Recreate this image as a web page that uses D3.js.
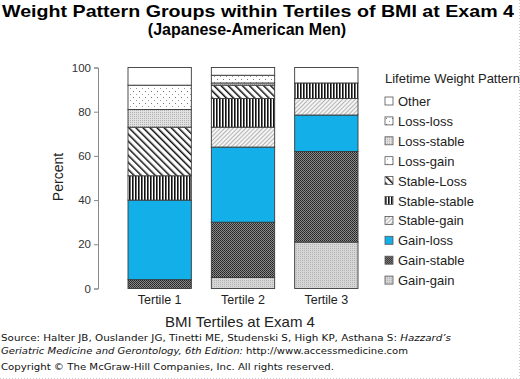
<!DOCTYPE html>
<html>
<head>
<meta charset="utf-8">
<script src="https://cdn.jsdelivr.net/npm/d3@7"></script>
<style>
  body { margin: 0; background: #fff; }
  svg { display: block; font-family: "Liberation Sans", Arial, sans-serif; }
</style>
</head>
<body>
<script>
// categories and series (bottom of the stack first)
const tertiles = ['Tertile 1', 'Tertile 2', 'Tertile 3']
const patterns = ['Gain-gain', 'Gain-stable', 'Gain-loss', 'Stable-gain', 'Stable-stable',
  'Stable-Loss', 'Loss-gain', 'Loss-stable', 'Loss-loss', 'Other']
const gainGain = [0, 5, 21]
const gainStable = [4, 25, 41]
const gainLoss = [36, 34, 16.5]
const stableGain = [0, 9, 7.5]
const stableStable = [11, 13, 7]
const stableLoss = [22, 6, 0]
const lossGain = [0, 0, 0]
const lossStable = [8, 1, 0]
const lossLoss = [11, 3.5, 0]
const other = [8, 3.5, 7]
const yTicks = [0, 20, 40, 60, 80, 100]

const series = [gainGain, gainStable, gainLoss, stableGain, stableStable,
  stableLoss, lossGain, lossStable, lossLoss, other]

const w = 520
const h = 379

const rows = tertiles.map((t, i) => {
  const r = { tertile: t }
  patterns.forEach((p, j) => { r[p] = series[j][i] })
  return r
})

const svg = d3.select('body').append('svg')
  .attr('width', w)
  .attr('height', h)

// fill patterns
const defs = svg.append('defs')
const fills = {}

function pat(id, size, draw, transform) {
  const p = defs.append('pattern')
    .attr('id', id)
    .attr('patternUnits', 'userSpaceOnUse')
    .attr('width', size)
    .attr('height', size)
  if (transform) p.attr('patternTransform', transform)
  draw(p)
  return 'url(#' + id + ')'
}

fills['Other'] = '#ffffff'
fills['Loss-loss'] = pat('p-ll', 6, p => {
  p.append('rect').attr('width', 6).attr('height', 6).attr('fill', '#fff')
  p.append('rect').attr('x', 1).attr('y', 1).attr('width', 1).attr('height', 1).attr('fill', '#777')
  p.append('rect').attr('x', 4).attr('y', 4).attr('width', 1).attr('height', 1).attr('fill', '#999')
})
fills['Loss-stable'] = pat('p-ls', 2, p => {
  p.append('rect').attr('width', 2).attr('height', 2).attr('fill', '#e2e2e2')
  p.append('rect').attr('width', 1).attr('height', 1).attr('fill', '#b0b0b0')
})
fills['Loss-gain'] = pat('p-lg', 5, p => {
  p.append('rect').attr('width', 5).attr('height', 5).attr('fill', '#fff')
  p.append('rect').attr('x', 2).attr('y', 2).attr('width', 1).attr('height', 1).attr('fill', '#999')
})
fills['Stable-Loss'] = pat('p-sl', 5, p => {
  p.append('rect').attr('width', 5).attr('height', 5).attr('fill', '#fff')
  p.append('line').attr('x1', 0).attr('y1', 0).attr('x2', 0).attr('y2', 5)
    .attr('stroke', '#111').attr('stroke-width', 3)
}, 'rotate(-45)')
fills['Stable-stable'] = pat('p-ss', 3, p => {
  p.append('rect').attr('width', 3).attr('height', 3).attr('fill', '#fff')
  p.append('rect').attr('x', 0).attr('width', 1.6).attr('height', 3).attr('fill', '#111')
})
fills['Stable-gain'] = pat('p-sg', 3, p => {
  p.append('rect').attr('width', 3).attr('height', 3).attr('fill', '#f4f4f4')
  p.append('line').attr('x1', 0).attr('y1', 0).attr('x2', 0).attr('y2', 3)
    .attr('stroke', '#777').attr('stroke-width', 1)
}, 'rotate(45)')
fills['Gain-loss'] = '#12afe8'
fills['Gain-stable'] = pat('p-gs', 2, p => {
  p.append('rect').attr('width', 2).attr('height', 2).attr('fill', '#8a8a8a')
  p.append('rect').attr('width', 1).attr('height', 1).attr('fill', '#222')
  p.append('rect').attr('x', 1).attr('y', 1).attr('width', 1).attr('height', 1).attr('fill', '#333')
})
fills['Gain-gain'] = pat('p-gg', 2, p => {
  p.append('rect').attr('width', 2).attr('height', 2).attr('fill', '#d6d6d6')
  p.append('rect').attr('width', 1).attr('height', 1).attr('fill', '#b4b4b4')
})

// scales
const xScale = d3.scaleBand()
  .domain(tertiles)
  .range([118, 368])
  .paddingInner(0.24)
  .paddingOuter(0.12)

const yScale = d3.scaleLinear()
  .domain([0, 100])
  .range([288.5, 67.5])

const stacked = d3.stack().keys(patterns)(rows)

svg.append('g')
  .selectAll('g')
  .data(stacked)
  .enter()
  .append('g')
  .attr('fill', d => fills[d.key])
  .selectAll('rect')
  .data(d => d.filter(s => s[1] - s[0] > 0))
  .enter()
  .append('rect')
  .attr('x', d => xScale(d.data.tertile))
  .attr('y', d => yScale(d[1]))
  .attr('width', xScale.bandwidth())
  .attr('height', d => yScale(d[0]) - yScale(d[1]))
  .attr('stroke', '#3a3a3a')
  .attr('stroke-width', 0.9)

// y axis
const yAxis = d3.axisLeft(yScale)
  .tickValues(yTicks)
  .tickSize(4)
  .tickPadding(3)

const yg = svg.append('g')
  .attr('transform', 'translate(98,0)')
  .call(yAxis)
yg.select('.domain').attr('stroke', '#888')
yg.selectAll('.tick line').attr('stroke', '#888')
yg.selectAll('.tick text')
  .attr('fill', '#333')
  .style('font-size', '11.5px')
  .style('font-family', '"Liberation Sans", Arial, sans-serif')

svg.append('text')
  .attr('transform', 'translate(63,177) rotate(-90)')
  .attr('text-anchor', 'middle')
  .attr('fill', '#222')
  .style('font-size', '14px')
  .text('Percent')

// x labels
svg.append('g')
  .selectAll('text')
  .data(tertiles)
  .enter()
  .append('text')
  .attr('x', d => xScale(d) + xScale.bandwidth() / 2)
  .attr('y', 304)
  .attr('text-anchor', 'middle')
  .attr('fill', '#222')
  .style('font-size', '12.5px')
  .text(d => d)

svg.append('text')
  .attr('x', 240)
  .attr('y', 327)
  .attr('text-anchor', 'middle')
  .attr('fill', '#222')
  .style('font-size', '15px')
  .text('BMI Tertiles at Exam 4')

// titles
svg.append('text')
  .attr('x', 258)
  .attr('y', 17)
  .attr('text-anchor', 'middle')
  .attr('textLength', 512)
  .attr('lengthAdjust', 'spacingAndGlyphs')
  .style('font-size', '16.5px')
  .style('font-weight', 'bold')
  .text('Weight Pattern Groups within Tertiles of BMI at Exam 4')

svg.append('text')
  .attr('x', 247)
  .attr('y', 35)
  .attr('text-anchor', 'middle')
  .style('font-size', '16px')
  .style('font-weight', 'bold')
  .text('(Japanese-American Men)')

// legend
const legend = svg.append('g')
legend.append('text')
  .attr('x', 385)
  .attr('y', 83)
  .attr('fill', '#222')
  .style('font-size', '13px')
  .text('Lifetime Weight Pattern')

const legendItems = patterns.slice().reverse()
const item = legend.selectAll('g.item')
  .data(legendItems)
  .enter()
  .append('g')
  .attr('class', 'item')
  .attr('transform', (d, i) => 'translate(385,' + (97 + i * 19.9) + ')')

item.append('rect')
  .attr('width', 8)
  .attr('height', 8)
  .attr('fill', d => fills[d])
  .attr('stroke', '#555')
  .attr('stroke-width', 0.8)

item.append('text')
  .attr('x', 13)
  .attr('y', 9)
  .attr('fill', '#222')
  .style('font-size', '13px')
  .text(d => d)

// source lines
const foot = svg.append('g')
  .style('font-family', '"DejaVu Sans", Verdana, sans-serif')
  .style('font-size', '9.5px')
  .attr('fill', '#111')

const l1 = foot.append('text').attr('x', 1).attr('y', 341)
l1.append('tspan').text('Source: Halter JB, Ouslander JG, Tinetti ME, Studenski S, High KP, Asthana S: ')
l1.append('tspan').style('font-style', 'italic').text('Hazzard\u2019s')

const l2 = foot.append('text').attr('x', 1).attr('y', 354)
l2.append('tspan').style('font-style', 'italic').text('Geriatric Medicine and Gerontology, 6th Edition:')
l2.append('tspan').text(' http://www.accessmedicine.com')

foot.append('text').attr('x', 1).attr('y', 370)
  .text('Copyright \u00a9 The McGraw-Hill Companies, Inc. All rights reserved.')

const targets = [450, 407, 333]
foot.selectAll('text').each(function (d, i) {
  const len = this.getComputedTextLength()
  if (len > 0) d3.select(this).attr('textLength', targets[i]).attr('lengthAdjust', 'spacingAndGlyphs')
})

// faint dotted frame on the right and bottom edges
svg.append('path')
  .attr('d', 'M519.5,0V378.5H0')
  .attr('fill', 'none')
  .attr('stroke', '#c8c8c8')
  .attr('stroke-dasharray', '1,2')
</script>
</body>
</html>
